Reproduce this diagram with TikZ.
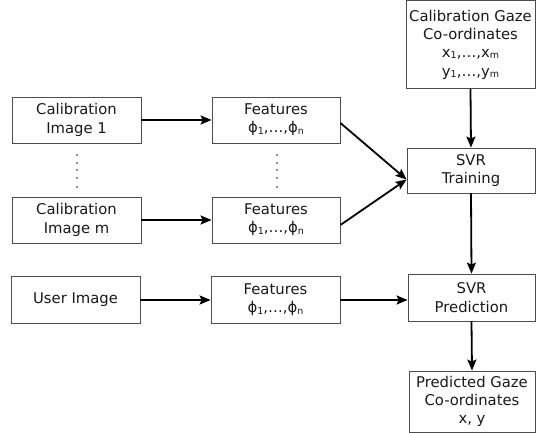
\documentclass[tikz,border=0pt]{standalone}
\usepackage{fontspec}
\setmainfont{DejaVu Sans}
\usetikzlibrary{arrows.meta}
\newcommand\sbsc[1]{\raisebox{-1.2pt}{\fontsize{9.5}{9.5}\selectfont #1}}
\tikzset{
  boxnode/.style={draw=black!70, line width=0.8pt, inner sep=0pt, align=center,
    font=\fontsize{14.8}{18.3}\selectfont, text=black!90},
  flowarrow/.style={line width=1.8pt, -{Stealth[length=11pt,width=9pt,inset=2pt]}},
  dotmark/.style={fill=black!85, draw=none}
}
\begin{document}
\begin{tikzpicture}[x=1pt,y=1pt]
\useasboundingbox (0,0) rectangle (536,433);
% nodes (y = 433 - pixel y)
\node[boxnode, minimum width=129pt, minimum height=46pt] (cal1) at (76.5,313) {Calibration\\Image 1};
\node[boxnode, minimum width=129pt, minimum height=46pt] (calm) at (76.5,213) {Calibration\\Image m};
\node[boxnode, minimum width=129pt, minimum height=47pt] (user) at (75.5,133) {User Image};
\node[boxnode, minimum width=128pt, minimum height=46pt] (f1) at (276,313) {Features\\ϕ\sbsc{1},…,ϕ\sbsc{n}};
\node[boxnode, minimum width=128pt, minimum height=46pt] (fm) at (276,213) {Features\\ϕ\sbsc{1},…,ϕ\sbsc{n}};
\node[boxnode, minimum width=129pt, minimum height=47pt] (f3) at (275.5,133) {Features\\ϕ\sbsc{1},…,ϕ\sbsc{n}};
\node[boxnode, minimum width=129pt, minimum height=88pt] (gaze) at (470.5,388.5) {Calibration Gaze\\Co-ordinates\\x\sbsc{1},…,x\sbsc{m}\\y\sbsc{1},…,y\sbsc{m}};
\node[boxnode, minimum width=128pt, minimum height=45pt] (train) at (471,262.5) {SVR\\Training};
\node[boxnode, minimum width=127pt, minimum height=47pt] (pred) at (471.5,135.5) {SVR\\Prediction};
\node[boxnode, minimum width=126pt, minimum height=61pt] (out) at (472,31.5) {Predicted Gaze\\Co-ordinates\\x, y};
% connectors
\draw[flowarrow] (cal1.east) -- (f1.west);
\draw[flowarrow] (calm.east) -- (fm.west);
\draw[flowarrow] (user.east) -- (f3.west);
\draw[flowarrow] (f3.east) -- (f3.east -| pred.west);
\draw[flowarrow] ([yshift=-3pt]f1.east) -- ([yshift=-9pt]train.west);
\draw[flowarrow] ([yshift=-5pt]fm.east) -- ([yshift=-9pt]train.west);
\draw[flowarrow] (gaze.south) -- (train.north);
\draw[flowarrow] (train.south) -- (pred.north);
\draw[flowarrow] (pred.south) -- (out.north);
% vertical dots
\foreach \yy in {278,270,263,255,246} {
  \fill[dotmark] (77,\yy) circle (0.9pt);
  \fill[dotmark] (277,\yy) circle (0.9pt);
}
\end{tikzpicture}
\end{document}
